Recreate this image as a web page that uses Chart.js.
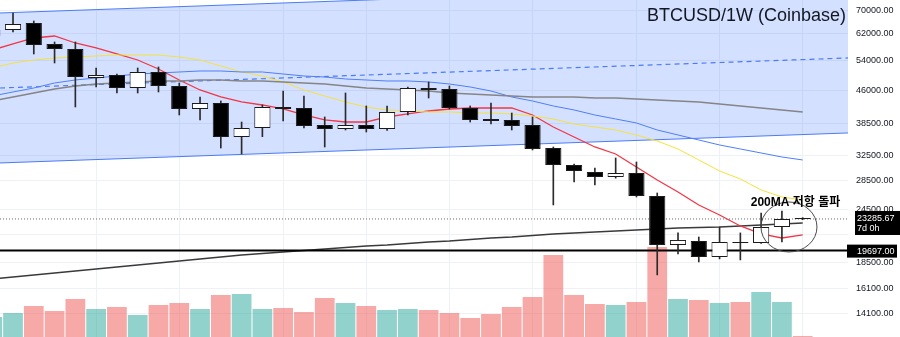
<!DOCTYPE html>
<html>
<head>
<meta charset="utf-8">
<script src="https://cdn.jsdelivr.net/npm/chart.js@4.4.1/dist/chart.umd.min.js"></script>
<style>
  html, body { margin: 0; padding: 0; background: #ffffff; }
  #wrap { width: 900px; height: 337px; }
</style>
</head>
<body>
<div id="wrap"><canvas id="btcChart" width="900" height="337"></canvas></div>
<script>
// BTCUSD weekly candles (Coinbase), week open dates
const weeks = [
    '2021-11-01', '2021-11-08', '2021-11-15', '2021-11-22', '2021-11-29',
    '2021-12-06', '2021-12-13', '2021-12-20', '2021-12-27', '2022-01-03',
    '2022-01-10', '2022-01-17', '2022-01-24', '2022-01-31', '2022-02-07',
    '2022-02-14', '2022-02-21', '2022-02-28', '2022-03-07', '2022-03-14',
    '2022-03-21', '2022-03-28', '2022-04-04', '2022-04-11', '2022-04-18',
    '2022-04-25', '2022-05-02', '2022-05-09', '2022-05-16', '2022-05-23',
    '2022-05-30', '2022-06-06', '2022-06-13', '2022-06-20', '2022-06-27',
    '2022-07-04', '2022-07-11', '2022-07-18', '2022-07-25', '2022-08-01'
];
const opens = [
    61300, 63300, 65690, 58780, 57250, 49100, 49890, 46570, 50690, 47070,
    41680, 43020, 35940, 37690, 42120, 41900, 38290, 37490, 38290, 37490,
    41020, 46570, 46330, 41900, 39530, 39320, 38290, 33900, 30990, 29860,
    29080, 29700, 26300, 20300, 20730, 19050, 20620, 20510, 22320, 23300
];
const highs = [
    64300, 69260, 66390, 59410, 59410, 51770, 50150, 51770, 52050, 47820,
    44410, 43480, 38900, 42570, 45840, 44640, 39950, 45360, 42340, 42340,
    46820, 48080, 47070, 42340, 43020, 40800, 39950, 34080, 31150, 30500,
    32160, 31480, 26720, 21630, 21170, 22320, 21630, 24040, 24290, 23450
];
const lows = [
    60100, 62630, 55750, 53160, 42120, 46820, 45360, 45360, 45600, 40370,
    39320, 33900, 32840, 36000, 39110, 37690, 34080, 37290, 36900, 37200,
    40370, 44170, 41680, 38900, 38500, 37290, 33550, 25080, 28320, 27880,
    28900, 26160, 17320, 19350, 18550, 18850, 18750, 20450, 20620, 23200
];
const closes = [
    63300, 65340, 58470, 57250, 49360, 49890, 46570, 50690, 47070, 41680,
    43020, 35940, 37690, 42120, 41680, 38090, 37490, 38290, 37490, 41020,
    46570, 46080, 41900, 39320, 39110, 38090, 33730, 30990, 30020, 29080,
    29700, 26300, 20300, 20840, 19050, 20620, 20510, 22320, 23280, 23285.67
];
// weekly volume, thousand BTC
const volumes = [
    20, 24, 31, 26, 38, 28, 30, 22, 32, 34,
    28, 42, 43, 28, 29, 25, 39, 34, 31, 27,
    28, 27, 24, 19, 23, 30, 40, 82, 42, 33,
    32, 35, 90, 38, 37, 34, 35, 45, 35, 1
];

// moving averages
const ma10 = [
    56945, 58781, 60678, 61323, 59092, 57554, 55752, 54010, 51499, 48587,
    46083, 44408, 43248, 42567, 41677, 40373, 39320, 38905, 38905, 39948,
    40589, 41238, 41677, 41898, 41898, 41898, 40373, 37890, 35937, 34084,
    32844, 30663, 28625, 26864, 25078, 23784, 22440, 21511, 21060, 21396
];
const ma20 = [
    51772, 53159, 54010, 54585, 54875, 55166, 55459, 55459, 55459, 54875,
    54010, 52323, 50687, 49626, 48075, 46083, 44643, 43248, 42120, 41457,
    41238, 41021, 41021, 40804, 40804, 40589, 40160, 39527, 38495, 37890,
    37293, 36319, 35184, 33726, 31819, 30020, 28775, 27150, 26162, 25750
];
const ma50 = [
    44643, 45598, 46572, 47822, 48587, 49103, 49626, 50152, 50420, 50687,
    50957, 50957, 50687, 50687, 50152, 49626, 49364, 48844, 48587, 48330,
    48330, 48075, 47569, 46820, 45840, 44408, 43477, 42343, 41457, 40373,
    39527, 38701, 37293, 36319, 35371, 34447, 33726, 33018, 32327, 31819
];
const ma100 = [
    43477, 44408, 45358, 46327, 47068, 47569, 47822, 48075, 48330, 48330,
    48587, 48587, 48330, 48330, 48075, 47822, 47569, 47068, 46572, 46327,
    46083, 45840, 45358, 45118, 44880, 44643, 44408, 44408, 44408, 44173,
    44173, 43940, 43708, 43477, 43248, 42793, 42343, 41898, 41457, 41021
];
const ma200 = [
    16954, 17134, 17315, 17501, 17687, 17875, 18065, 18257, 18451, 18648,
    18846, 19046, 19249, 19403, 19558, 19714, 19871, 20029, 20188, 20295,
    20457, 20620, 20729, 20893, 21060, 21172, 21340, 21511, 21625, 21739,
    21854, 21970, 22087, 22204, 22263, 22322, 22440, 22559, 22679, 22799
];

// drawn levels: channel, trend line, support, last price
const channelTop = [69260, 81170];
const channelBottom = [31320, 36710];
const trendLine = [46570, 54590];
const supportLevel = 19697;
const lastPrice = 23285.67;
const barCountdown = '7d 0h';

const priceTicks = [70000, 62000, 54000, 46000, 38500, 32500, 28500, 24500, 21500, 18500, 16100, 14100];
const hiddenTicks = [21500];

const title = 'BTCUSD/1W (Coinbase)';
const note = '200MA 저항 돌파';

// visible window in week index
const viewStart = 0.374;
const viewEnd = 41.18;

const isUp = (i) => closes[i] >= opens[i];
const series = (arr) => arr.map((v, i) => ({ x: i, y: v }));
const span = (a, b) => [{ x: viewStart, y: a }, { x: viewEnd, y: b }];

// month boundaries -> vertical grid
const monthStarts = weeks
    .map((w, i) => (i > 0 && w.slice(5, 7) !== weeks[i - 1].slice(5, 7) ? i : -1))
    .filter(i => i >= 0);

const maLine = (data, color, width, order) => ({
    type: 'line',
    data: series(data),
    borderColor: color,
    borderWidth: width,
    pointRadius: 0,
    tension: 0,
    fill: false,
    order: order
});

const levelLine = (a, b, color, width, dash, order) => ({
    type: 'line',
    data: span(a, b),
    borderColor: color,
    borderWidth: width,
    borderDash: dash,
    pointRadius: 0,
    fill: false,
    order: order
});

const channelTopLine = levelLine(channelTop[0], channelTop[1], '#4b7bf5', 1, [], 20);
channelTopLine.fill = '+1';
channelTopLine.backgroundColor = 'rgba(41, 98, 255, 0.2)';

// overlays: title, note circle, axis price labels
const overlays = {
    id: 'overlays',
    afterDraw(chart) {
        const { ctx, chartArea, scales } = chart;
        const x = scales.x;
        const y = scales.y;
        ctx.save();

        ctx.fillStyle = '#131722';
        ctx.font = '18px "Liberation Sans", Arial, sans-serif';
        ctx.textAlign = 'right';
        ctx.textBaseline = 'alphabetic';
        ctx.fillText(title, chartArea.right - 2, 21);

        // circle round the last two candles
        ctx.strokeStyle = '#4a4a4a';
        ctx.lineWidth = 1;
        ctx.beginPath();
        ctx.ellipse(x.getPixelForValue(38.34), y.getPixelForValue(22320), 28, 25, 0, 0, Math.PI * 2);
        ctx.stroke();

        ctx.fillStyle = '#000000';
        ctx.font = 'bold 12px "Liberation Sans", "Noto Sans CJK KR", sans-serif';
        ctx.textAlign = 'left';
        ctx.textBaseline = 'middle';
        ctx.fillText(note, x.getPixelForValue(36.5), y.getPixelForValue(25350));

        // price labels on the axis
        ctx.font = '9px "Liberation Sans", Arial, sans-serif';
        const py = y.getPixelForValue(lastPrice);
        ctx.fillStyle = '#000000';
        ctx.fillRect(chartArea.right + 7, py - 8, 47, 24);
        ctx.fillStyle = '#ffffff';
        ctx.fillText(lastPrice.toFixed(2), chartArea.right + 9, py);
        ctx.fillText(barCountdown, chartArea.right + 9, py + 10);

        const sy = y.getPixelForValue(supportLevel);
        ctx.fillStyle = '#000000';
        ctx.fillRect(chartArea.right - 1, sy - 6, 50, 13);
        ctx.fillStyle = '#ffffff';
        ctx.fillText(supportLevel.toFixed(2), chartArea.right + 9, sy + 0.5);

        ctx.restore();
    }
};

new Chart(document.getElementById('btcChart'), {
    type: 'bar',
    data: {
        datasets: [
            channelTopLine,
            levelLine(channelBottom[0], channelBottom[1], '#4b7bf5', 1, [], 19),
            levelLine(trendLine[0], trendLine[1], '#4b7bf5', 1.2, [5, 4], 12),
            maLine(ma100, '#858585', 1.5, 10),
            maLine(ma50, '#4f7ff5', 1, 10),
            maLine(ma20, '#f5e23c', 1, 10),
            maLine(ma10, '#f23645', 1.3, 10),
            maLine(ma200, '#3a3a3a', 1.6, 10),
            levelLine(supportLevel, supportLevel, '#000000', 2, [], 9),
            levelLine(lastPrice, lastPrice, '#6b6b6b', 1, [1, 2], 8),
            {
                label: 'Volume',
                data: series(volumes),
                yAxisID: 'yVol',
                backgroundColor: volumes.map((_, i) => isUp(i) ? 'rgba(38, 166, 154, 0.5)' : 'rgba(239, 83, 80, 0.5)'),
                grouped: false,
                categoryPercentage: 1,
                barPercentage: 0.95,
                order: 15
            },
            {
                label: 'Wick',
                data: weeks.map((_, i) => ({ x: i, y: [lows[i], highs[i]] })),
                backgroundColor: '#2b2b2b',
                grouped: false,
                categoryPercentage: 1,
                barPercentage: 1,
                maxBarThickness: 1,
                order: 2
            },
            {
                label: 'Body',
                data: weeks.map((_, i) => ({ x: i, y: [opens[i], closes[i]] })),
                backgroundColor: weeks.map((_, i) => isUp(i) ? '#ffffff' : '#000000'),
                borderColor: '#1a1a1a',
                borderWidth: 1,
                borderSkipped: false,
                minBarLength: 1,
                grouped: false,
                categoryPercentage: 1,
                barPercentage: 0.78,
                order: 1
            }
        ]
    },
    options: {
        responsive: false,
        animation: false,
        devicePixelRatio: 1,
        layout: { padding: 0 },
        plugins: {
            legend: { display: false },
            tooltip: { enabled: false }
        },
        scales: {
            x: {
                type: 'linear',
                min: viewStart,
                max: viewEnd,
                bounds: 'data',
                offset: false,
                afterBuildTicks: (scale) => {
                    scale.ticks = monthStarts.map(v => ({ value: v }));
                },
                afterFit: (scale) => {
                    scale.height = 0;
                    scale.paddingLeft = 0;
                    scale.paddingRight = 0;
                },
                ticks: { display: false },
                grid: { color: '#eef1f7', offset: false, drawTicks: false },
                border: { display: false }
            },
            y: {
                type: 'logarithmic',
                position: 'right',
                min: 12470,
                max: 74190,
                bounds: 'data',
                afterBuildTicks: (scale) => {
                    scale.ticks = priceTicks.map(v => ({ value: v }));
                },
                afterFit: (scale) => {
                    scale.width = 52;
                    scale.paddingTop = 0;
                    scale.paddingBottom = 0;
                },
                ticks: {
                    autoSkip: false,
                    padding: 8,
                    color: '#131722',
                    font: { family: '"Liberation Sans", Arial, sans-serif', size: 9 },
                    callback: (v) => hiddenTicks.includes(v) ? '' : Number(v).toFixed(2)
                },
                grid: { color: '#eef1f7', drawTicks: false },
                border: { display: false }
            },
            yVol: {
                type: 'linear',
                display: false,
                min: 0,
                max: 337
            }
        }
    },
    plugins: [overlays]
});
</script>
</body>
</html>
